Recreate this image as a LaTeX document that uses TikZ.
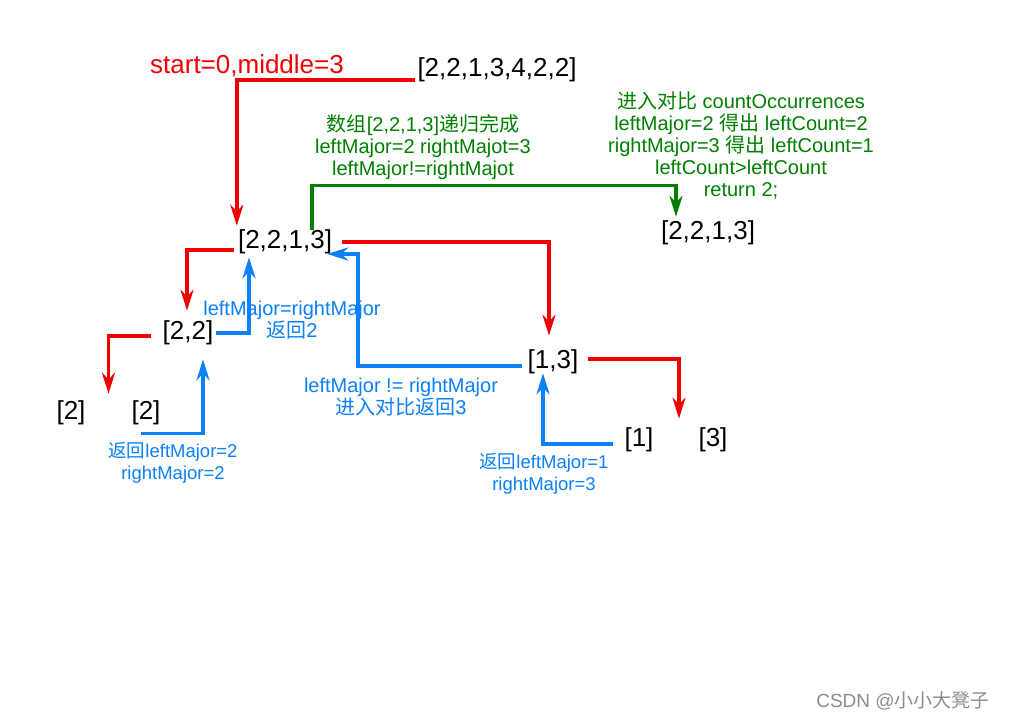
\documentclass[tikz,border=0pt]{standalone}
\usepackage{fontspec}
\setmainfont{Liberation Sans}
\newfontfamily\cjk{Noto Sans CJK SC}
\usetikzlibrary{arrows.meta, calc}
\definecolor{splitred}{RGB}{240,0,0}
\definecolor{backblue}{RGB}{10,128,250}
\definecolor{cmpgreen}{RGB}{0,128,0}
\tikzset{
    arr/.style={
        inner sep=0pt, font=\fontsize{26}{28}\selectfont
    },
    note/.style={
        inner sep=0pt, align=center,
        font=\fontsize{20}{22}\selectfont
    },
    smallnote/.style={
        inner sep=0pt, align=center,
        font=\fontsize{18.5}{21.5}\selectfont
    },
    split/.style={-{Stealth[length=21pt, width=13pt]}, line width=3.5pt, draw=splitred},
    back/.style={-{Stealth[length=21pt, width=13pt]}, line width=3.5pt, draw=backblue},
    merge/.style={-{Stealth[length=21pt, width=13pt]}, line width=3.5pt, draw=cmpgreen}
}

\begin{document}
\begin{tikzpicture}[x=1pt, y=-1pt]
    \useasboundingbox (0,0) rectangle (1017,721);

    \node[arr] (top) at (497,70) {[2,2,1,3,4,2,2]};
    \node[arr] (mid) at (285,242) {[2,2,1,3]};
    \node[arr] (res) at (708,233) {[2,2,1,3]};
    \node[arr] (lh) at (188,333) {[2,2]};
    \node[arr] (rh) at (553,362) {[1,3]};
    \node[arr] (l1) at (71,413) {[2]};
    \node[arr] (l2) at (146,413) {[2]};
    \node[arr] (r1) at (639,440) {[1]};
    \node[arr] (r2) at (713,440) {[3]};

    \node[arr, text=splitred] (range) at (247,66) {start=0,middle=3};
    \node[note, text=cmpgreen] (grnL) at (423,147)
        {{\cjk 数组}[2,2,1,3]{\cjk 递归完成}\\leftMajor=2 rightMajot=3\\leftMajor!=rightMajot};
    \node[note, text=cmpgreen] (grnR) at (741,145)
        {{\cjk 进入对比} countOccurrences\\leftMajor=2 {\cjk 得出} leftCount=2\\rightMajor=3 {\cjk 得出} leftCount=1\\leftCount>leftCount\\return 2;};
    \node[note, text=backblue] (lhlab) at (292,320) {leftMajor=rightMajor\\{\cjk 返回}2};
    \node[note, text=backblue] (rhlab) at (401,397) {leftMajor != rightMajor\\{\cjk 进入对比返回}3};
    \node[smallnote, text=backblue] (l2lab) at (173,463) {{\cjk 返回}leftMajor=2\\rightMajor=2};
    \node[smallnote, text=backblue] (r1lab) at (544,474) {{\cjk 返回}leftMajor=1\\rightMajor=3};
    \node[inner sep=0pt, text=black!45, font=\fontsize{19}{21}\selectfont] (mark) at (903,701)
        {CSDN @{\cjk 小小大凳子}};

    % splitting
    \draw[split] ($(top.west)+(-2,10)$) -| ($(mid.north west)+(-1,-4)$);
    \draw[split] ($(mid.east)+(10,0)$) -| ($(rh.north)+(-4,-14)$);
    \draw[split] ($(mid.west)+(-4,8)$) -| ($(lh.north)+(-1,-10)$);
    \draw[split] ($(lh.west)+(-12,3)$) -| ($(l1.north)!0.5!(l2.north)+(0,-7)$);
    \draw[split] ($(rh.east)+(9,-3)$) -| ($(r1.north)!0.5!(r2.north)+(3,-9)$);

    % returning
    \draw[back] ($(l2.south)+(-5,8)$) -| ($(lh.south)+(15,14)$);
    \draw[back] ($(lh.east)+(3,0)$) -| ($(mid.south)+(-36,3)$);
    \draw[back] ($(rh.west)+(-6,4)$) -| ($(mid.east)+(26,12)$) -- ($(mid.east)+(-5,12)$);
    \draw[back] ($(r1.west)+(-11,4)$) -| ($(rh.south)+(-10,-1)$);

    % compare
    \draw[merge] ($(mid.north)+(27,0)$) -- ++(0,-44) -| ($(res.north)+(-32,-4)$);
\end{tikzpicture}
\end{document}
